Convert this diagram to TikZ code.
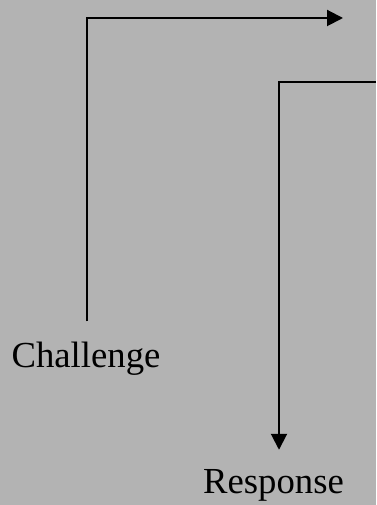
\documentclass[tikz,border=0pt]{standalone}
\usepackage{fontspec}
\setmainfont{Liberation Serif}
\usetikzlibrary{arrows.meta,positioning}
\definecolor{bggray}{HTML}{B3B3B3}
\tikzset{
  lbl/.style={font=\fontsize{36.7}{40}\selectfont,inner sep=0pt,anchor=base},
  arr/.style={-{Triangle[length=16pt,width=16pt]},line width=2pt,color=black},
}
\begin{document}
\begin{tikzpicture}[x=1pt,y=1pt]
  \fill[bggray] (0,0) rectangle (376,505);
  \useasboundingbox (0,0) rectangle (376,505);

  \node[lbl] (chal) at (86,137)    {Challenge};
  \node[lbl] (resp) at (273.5,11)  {Response};

  \coordinate (top)  at (343,487);
  \coordinate (edge) at (376,423);

  \draw[arr] ([xshift=1pt,yshift=21pt]chal.north) |- (top);
  \draw[arr] (edge) -| ([xshift=5.5pt,yshift=20pt]resp.north);
\end{tikzpicture}
\end{document}
